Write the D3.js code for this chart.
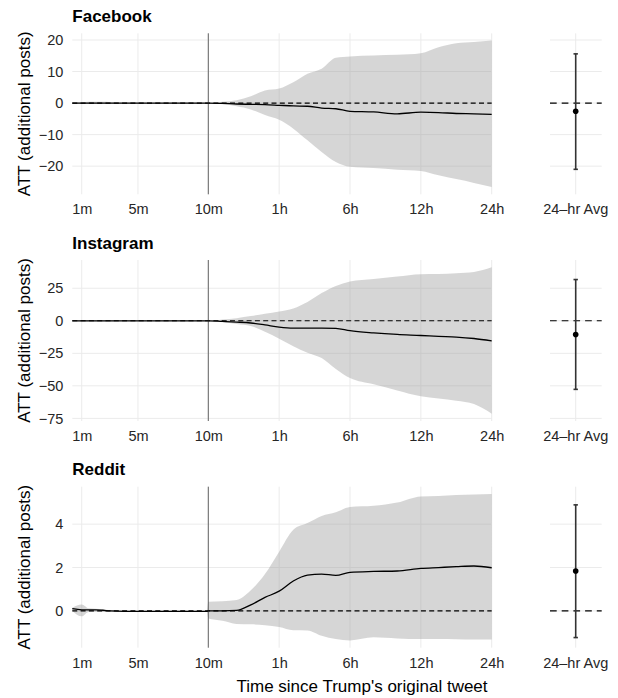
<!DOCTYPE html>
<html>
<head>
<meta charset="utf-8">
<script src="https://cdn.jsdelivr.net/npm/d3@7"></script>
<style>
body { margin: 0; background: #fff; }
text { font-family: "Liberation Sans", Arial, sans-serif; }
</style>
</head>
<body>
<svg id="chart"></svg>
<script>

// minutes since the tweet (pre period in minutes, then out to 24h)
var times = [0.33, 1, 1.5, 2, 2.5, 3, 4, 5, 6, 7, 8, 9, 9.9, 10,
             20, 30, 40, 50, 60, 120, 180, 240, 300, 360, 480, 600, 720, 900, 1080, 1260, 1440];

var tickMinutes = [1, 5, 10, 60, 360, 720, 1440];
var tickLabels = ["1m", "5m", "10m", "1h", "6h", "12h", "24h"];

var platforms = ["Facebook", "Instagram", "Reddit"];

var fbEst = [0, 0, 0, 0, 0, 0, 0, 0, 0, 0, 0, 0, 0, 0,
             -0.1, -0.3, -0.4, -0.5, -0.7, -0.9, -1.0, -1.6, -1.8, -2.6, -2.8, -3.4, -2.9, -3.0, -3.3, -3.4, -3.6];
var fbLo = [0, -0.1, -0.2, -0.2, -0.1, -0.1, -0.1, -0.1, -0.1, -0.1, -0.1, -0.1, 0, 0,
            -0.4, -1.0, -2.0, -3.8, -5.3, -8.1, -11.8, -15.5, -18.7, -20.2, -20.6, -21.1, -21.5, -22.9, -24.1, -25.3, -26.6];
var fbHi = [0.1, 0.2, 0.4, 0.4, 0.4, 0.3, 0.1, 0.1, 0.1, 0.1, 0.1, 0.1, 0, 0,
            0.4, 0.9, 2.2, 4.0, 4.6, 6.6, 9.3, 10.9, 14.4, 14.8, 15.1, 15.3, 15.8, 17.7, 19.0, 19.4, 19.8];

var igEst = [0, 0, 0, 0, 0, 0, 0, 0, 0, 0, 0, 0, 0, 0,
             -0.5, -1.0, -1.7, -3.2, -4.9, -5.7, -5.6, -5.6, -5.8, -7.6, -9.3, -10.5, -11.3, -12.0, -12.5, -13.6, -15.4];
var igLo = [0, -0.3, -0.4, -0.4, -0.3, -0.3, -0.2, -0.2, -0.2, -0.2, -0.2, -0.2, 0, 0,
            -1.2, -2.4, -4.0, -8.5, -13.8, -19.5, -24.5, -28.6, -37, -44, -48.8, -53.5, -58, -59.8, -61.5, -64, -71.4];
var igHi = [0, 0.3, 0.4, 0.4, 0.3, 0.3, 0.2, 0.2, 0.2, 0.2, 0.2, 0.2, 0, 0,
            1.0, 2.0, 3.6, 5.4, 7.1, 9.5, 14.5, 21.3, 26.8, 30.2, 32.2, 34, 35.8, 36, 36.5, 37.5, 41.1];

var rdEst = [0.1, 0.05, 0.05, 0.05, 0.03, 0, -0.02, -0.02, -0.02, -0.02, -0.02, -0.02, -0.02, 0,
             0, 0.02, 0.28, 0.62, 0.91, 1.38, 1.65, 1.7, 1.64, 1.78, 1.82, 1.84, 1.96, 2.0, 2.04, 2.07, 1.99];
var rdLo = [0, -0.25, -0.05, -0.05, -0.05, -0.03, -0.03, -0.03, -0.03, -0.03, -0.03, -0.03, -0.03, -0.35,
            -0.45, -0.6, -0.62, -0.66, -0.74, -0.89, -0.9, -1.15, -1.3, -1.36, -1.22, -1.27, -1.3, -1.3, -1.31, -1.32, -1.32];
var rdHi = [0.15, 0.3, 0.12, 0.1, 0.08, 0.03, 0.01, 0.01, 0.01, 0.01, 0.01, 0.01, 0.01, 0.42,
            0.45, 0.5, 0.95, 1.7, 2.73, 3.74, 4.05, 4.38, 4.55, 4.79, 4.85, 5.0, 5.28, 5.3, 5.34, 5.37, 5.39];

var fbTicks = [-20, -10, 0, 10, 20];
var igTicks = [-75, -50, -25, 0, 25];
var rdTicks = [0, 2, 4];

// 24-hr average effect with interval
var avgLabel = "24\u2013hr Avg";
var avgEst = [-2.6, -10.5, 1.84];
var avgLo = [-21, -52.7, -1.23];
var avgHi = [15.6, 31.7, 4.89];

var svg = d3.select("#chart")
            .attr("width", 618)
            .attr("height", 698);

var plotLeft = 72.3, plotRight = 491.7;
var x10 = 208.3;
var avgLeft = 550, avgRight = 601.7, avgMid = 575.7;
var panelTop = [33.3, 260, 486.7];
var panelHeight = 161;

// piecewise x: linear minutes before 10m, then equal spacing per break
var step = (plotRight - x10) / 4;
var xScale = d3.scaleLinear()
    .domain([times[0]].concat(tickMinutes.slice(2)))
    .range([plotLeft, x10, x10 + step, x10 + 2 * step, x10 + 3 * step, plotRight]);

function drawPanel(i, est, lo, hi, ticks) {
    var top = panelTop[i];
    var bottom = top + panelHeight;

    var ext = d3.extent(lo.concat(hi, [avgLo[i], avgHi[i]]));
    var pad = (ext[1] - ext[0]) * 0.05;
    var yScale = d3.scaleLinear()
        .domain([ext[0] - pad, ext[1] + pad])
        .range([bottom, top]);

    var g = svg.append("g").attr("class", "panel");

    // grid lines
    g.selectAll(".hgrid")
        .data(ticks)
        .enter()
        .append("line")
        .attr("x1", plotLeft).attr("x2", plotRight)
        .attr("y1", function(d) { return yScale(d); })
        .attr("y2", function(d) { return yScale(d); })
        .attr("stroke", "#ebebeb").attr("stroke-width", 1);

    g.selectAll(".vgrid")
        .data(tickMinutes)
        .enter()
        .append("line")
        .attr("x1", function(d) { return xScale(d); })
        .attr("x2", function(d) { return xScale(d); })
        .attr("y1", top).attr("y2", bottom)
        .attr("stroke", "#ebebeb").attr("stroke-width", 1);

    // avg panel grid
    g.selectAll(".agrid")
        .data(ticks)
        .enter()
        .append("line")
        .attr("x1", avgLeft).attr("x2", avgRight)
        .attr("y1", function(d) { return yScale(d); })
        .attr("y2", function(d) { return yScale(d); })
        .attr("stroke", "#ebebeb").attr("stroke-width", 1);

    g.append("line")
        .attr("x1", avgMid).attr("x2", avgMid)
        .attr("y1", top).attr("y2", bottom)
        .attr("stroke", "#ebebeb").attr("stroke-width", 1);

    var rows = times.map(function(t, k) {
        return { t: t, est: est[k], lo: lo[k], hi: hi[k] };
    });

    // confidence band
    var area = d3.area()
        .x(function(d) { return xScale(d.t); })
        .y0(function(d) { return yScale(d.lo); })
        .y1(function(d) { return yScale(d.hi); })
        .curve(d3.curveMonotoneX);

    g.append("path")
        .datum(rows)
        .attr("d", area)
        .attr("fill", "#999999")
        .attr("fill-opacity", 0.4);

    // zero reference
    g.append("line")
        .attr("x1", plotLeft).attr("x2", plotRight)
        .attr("y1", yScale(0)).attr("y2", yScale(0))
        .attr("stroke", "#000").attr("stroke-width", 1.1)
        .attr("stroke-dasharray", "5,3.3");

    // tweet time
    g.append("line")
        .attr("x1", xScale(10)).attr("x2", xScale(10))
        .attr("y1", top).attr("y2", bottom)
        .attr("stroke", "#555").attr("stroke-width", 0.9);

    var line = d3.line()
        .x(function(d) { return xScale(d.t); })
        .y(function(d) { return yScale(d.est); })
        .curve(d3.curveMonotoneX);

    g.append("path")
        .datum(rows)
        .attr("d", line)
        .attr("fill", "none")
        .attr("stroke", "#000")
        .attr("stroke-width", 1.3);

    // avg panel
    g.append("line")
        .attr("x1", avgLeft).attr("x2", avgRight)
        .attr("y1", yScale(0)).attr("y2", yScale(0))
        .attr("stroke", "#000").attr("stroke-width", 1.1)
        .attr("stroke-dasharray", "6.7,5");

    g.append("line")
        .attr("x1", avgMid).attr("x2", avgMid)
        .attr("y1", yScale(avgLo[i])).attr("y2", yScale(avgHi[i]))
        .attr("stroke", "#333").attr("stroke-width", 1.6);

    [avgLo[i], avgHi[i]].forEach(function(v) {
        g.append("line")
            .attr("x1", avgMid - 2.2).attr("x2", avgMid + 2.2)
            .attr("y1", yScale(v)).attr("y2", yScale(v))
            .attr("stroke", "#333").attr("stroke-width", 1.6);
    });

    g.append("circle")
        .attr("cx", avgMid).attr("cy", yScale(avgEst[i]))
        .attr("r", 2.8)
        .attr("fill", "#000");

    // axes
    var x_axis = d3.axisBottom(xScale)
        .tickValues(tickMinutes)
        .tickFormat(function(d, k) { return tickLabels[k]; })
        .tickSize(0)
        .tickPadding(9.7);

    var xg = g.append("g")
        .attr("transform", "translate(0," + bottom + ")")
        .call(x_axis);

    var y_axis = d3.axisLeft(yScale)
        .tickValues(ticks)
        .tickSize(0)
        .tickPadding(9);

    var yg = g.append("g")
        .attr("transform", "translate(" + plotLeft + ",0)")
        .call(y_axis);

    g.append("text")
        .attr("x", avgMid)
        .attr("y", bottom + 20)
        .attr("text-anchor", "middle")
        .attr("font-size", "14.5px")
        .attr("fill", "#262626")
        .text(avgLabel);

    [xg, yg].forEach(function(ax) {
        ax.select(".domain").remove();
        ax.attr("font-family", null).attr("font-size", null);
        ax.selectAll("text")
            .attr("font-size", "14.5px")
            .attr("fill", "#262626");
    });

    // title and y label
    g.append("text")
        .attr("x", plotLeft)
        .attr("y", top - 11.5)
        .attr("font-size", "17px")
        .attr("font-weight", "bold")
        .text(platforms[i]);

    g.append("text")
        .attr("transform", "rotate(-90)")
        .attr("x", -(top + panelHeight / 2))
        .attr("y", 30)
        .attr("text-anchor", "middle")
        .attr("font-size", "17px")
        .text("ATT (additional posts)");
}

drawPanel(0, fbEst, fbLo, fbHi, fbTicks);
drawPanel(1, igEst, igLo, igHi, igTicks);
drawPanel(2, rdEst, rdLo, rdHi, rdTicks);

svg.append("text")
    .attr("x", 362)
    .attr("y", 692)
    .attr("text-anchor", "middle")
    .attr("font-size", "17px")
    .text("Time since Trump's original tweet");

</script>
</body>
</html>
